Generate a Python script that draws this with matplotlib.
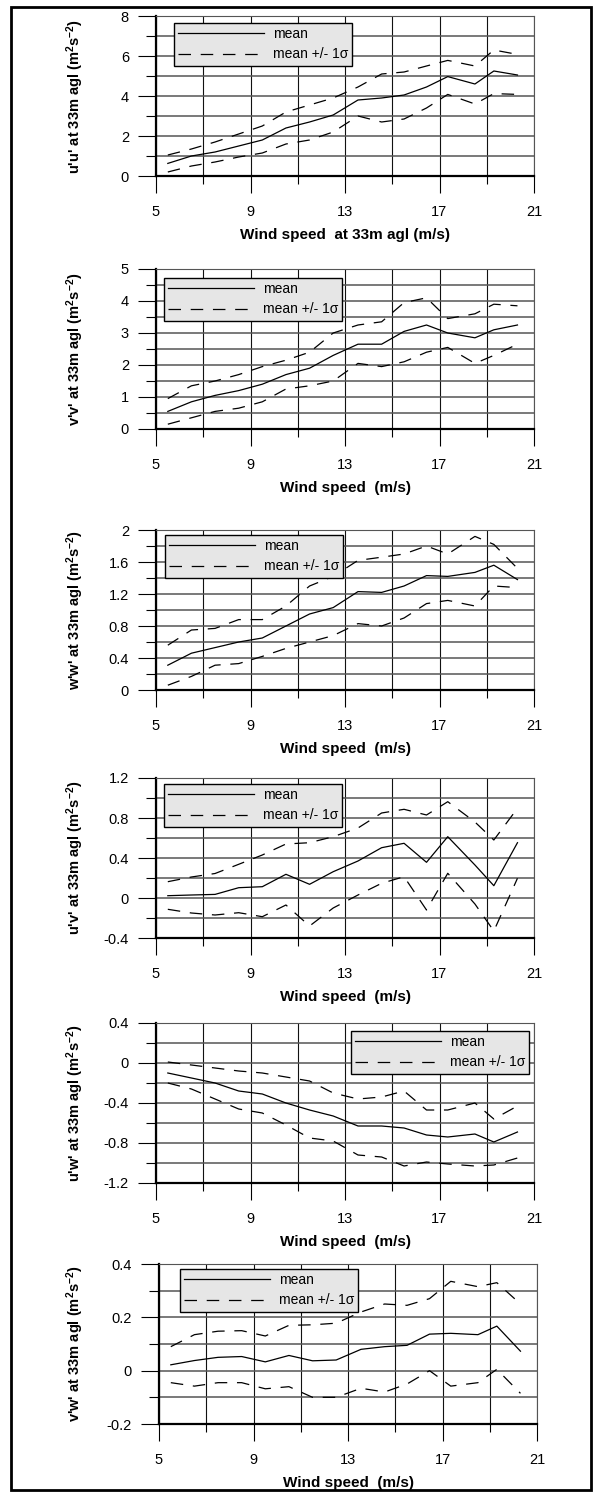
import matplotlib
matplotlib.use('Agg')
import matplotlib.pyplot as plt
from matplotlib.ticker import MultipleLocator, FixedLocator, FuncFormatter
from matplotlib.patches import Rectangle

plt.rcParams['font.family'] = ['Liberation Sans', 'DejaVu Sans']
plt.rcParams['mathtext.fontset'] = 'custom'
plt.rcParams['mathtext.bf'] = 'Liberation Sans:bold'
plt.rcParams['mathtext.rm'] = 'Liberation Sans:bold'
plt.rcParams['mathtext.default'] = 'bf'
plt.rcParams['lines.scale_dashes'] = False
plt.rcParams['axes.unicode_minus'] = False

# %% data
wind = [5.5, 6.5, 7.5, 8.5, 9.5, 10.5, 11.5, 12.5, 13.55, 14.55, 15.5, 16.45, 17.35, 18.5, 19.3, 20.3]

uu_mean = [0.63, 1.0, 1.2, 1.5, 1.8, 2.4, 2.7, 3.05, 3.8, 3.9, 4.05, 4.45, 4.97, 4.6, 5.25, 5.05]
uu_upper = [1.05, 1.35, 1.7, 2.1, 2.5, 3.2, 3.55, 3.9, 4.45, 5.1, 5.2, 5.5, 5.78, 5.5, 6.3, 6.08]
uu_lower = [0.2, 0.5, 0.7, 0.95, 1.15, 1.6, 1.8, 2.2, 3.0, 2.7, 2.85, 3.4, 4.08, 3.6, 4.12, 4.08]

vv_mean = [0.55, 0.85, 1.05, 1.2, 1.4, 1.7, 1.9, 2.3, 2.65, 2.65, 3.05, 3.25, 3.0, 2.85, 3.1, 3.25]
vv_upper = [0.95, 1.35, 1.5, 1.7, 1.95, 2.15, 2.4, 3.0, 3.25, 3.35, 3.95, 4.1, 3.45, 3.6, 3.9, 3.85]
vv_lower = [0.15, 0.35, 0.55, 0.65, 0.85, 1.25, 1.35, 1.5, 2.05, 1.95, 2.1, 2.4, 2.55, 2.05, 2.3, 2.65]

ww_mean = [0.31, 0.46, 0.53, 0.6, 0.65, 0.8, 0.95, 1.03, 1.23, 1.22, 1.3, 1.43, 1.42, 1.47, 1.56, 1.38]
ww_upper = [0.56, 0.75, 0.77, 0.88, 0.88, 1.05, 1.3, 1.42, 1.62, 1.66, 1.70, 1.80, 1.70, 1.92, 1.82, 1.52]
ww_lower = [0.06, 0.17, 0.31, 0.33, 0.42, 0.52, 0.6, 0.68, 0.83, 0.8, 0.9, 1.08, 1.12, 1.05, 1.3, 1.28]

uv_mean = [0.023, 0.03, 0.036, 0.103, 0.113, 0.237, 0.137, 0.263, 0.37, 0.503, 0.547, 0.357, 0.613, 0.33, 0.123, 0.553]
uv_upper = [0.163, 0.21, 0.245, 0.337, 0.43, 0.54, 0.553, 0.613, 0.70, 0.85, 0.887, 0.83, 0.963, 0.76, 0.58, 0.897]
uv_lower = [-0.113, -0.15, -0.17, -0.147, -0.187, -0.07, -0.28, -0.1, 0.03, 0.147, 0.213, -0.12, 0.247, -0.06, -0.33, 0.197]

uw_mean = [-0.1, -0.15, -0.2, -0.28, -0.31, -0.4, -0.47, -0.53, -0.63, -0.63, -0.65, -0.72, -0.74, -0.71, -0.79, -0.69]
uw_upper = [0.01, -0.02, -0.05, -0.08, -0.1, -0.14, -0.18, -0.3, -0.36, -0.34, -0.28, -0.47, -0.47, -0.4, -0.56, -0.43]
uw_lower = [-0.2, -0.26, -0.36, -0.46, -0.5, -0.62, -0.75, -0.78, -0.92, -0.94, -1.03, -0.99, -1.01, -1.03, -1.02, -0.95]

vw_mean = [0.022, 0.038, 0.05, 0.053, 0.033, 0.057, 0.037, 0.04, 0.08, 0.09, 0.095, 0.137, 0.14, 0.135, 0.167, 0.073]
vw_upper = [0.09, 0.135, 0.148, 0.15, 0.13, 0.17, 0.172, 0.178, 0.22, 0.25, 0.245, 0.27, 0.335, 0.315, 0.33, 0.25]
vw_lower = [-0.045, -0.058, -0.045, -0.045, -0.068, -0.06, -0.1, -0.1, -0.066, -0.08, -0.05, 0.0, -0.058, -0.045, 0.005, -0.085]

names = ["u'u'", "v'v'", "w'w'", "u'v'", "u'w'", "v'w'"]
xlabels = ['Wind speed  at 33m agl (m/s)'] + ['Wind speed  (m/s)'] * 5
xticks_major = [5, 9, 13, 17, 21]
xticks_minor = [7, 11, 15, 19]
ylims = [(0, 8), (0, 5), (0, 2), (-0.4, 1.2), (-1.2, 0.4), (-0.2, 0.4)]
ysteps = [(2, 1), (1, 0.5), (0.4, 0.2), (0.4, 0.2), (0.4, 0.2), (0.2, 0.1)]
series = [(uu_mean, uu_upper, uu_lower), (vv_mean, vv_upper, vv_lower),
          (ww_mean, ww_upper, ww_lower), (uv_mean, uv_upper, uv_lower),
          (uw_mean, uw_upper, uw_lower), (vw_mean, vw_upper, vw_lower)]

# %% layout in pixels
W, H = 593, 1492
ax_pos = [(156, 16), (156, 269), (156, 530), (156, 778), (156, 1023), (159, 1264)]
leg_pos = [(174, 23), (164, 278), (165, 535), (164, 784), (351, 1031), (180, 1269)]
AW, AH = 378, 160

fig = plt.figure(figsize=(W / 100, H / 100), dpi=100)
fig.add_artist(Rectangle((11 / W, 2 / H), 580 / W, 1483 / H, transform=fig.transFigure,
                         fill=False, lw=2, ec='black'))


def fmt(v, pos):
    v = round(v, 2)
    if v == 0:
        return '0'
    return '{:g}'.format(v)


for i in range(6):
    x0, y0 = ax_pos[i]
    ax = fig.add_axes([x0 / W, 1 - (y0 + AH) / H, AW / W, AH / H])
    mean, upper, lower = series[i]
    ax.plot(wind, mean, color='black', lw=0.9, label='mean', zorder=3)
    ax.plot(wind, upper, color='black', lw=0.9, linestyle=(0, (9, 7)), label='mean +/- 1σ', zorder=3)
    ax.plot(wind, lower, color='black', lw=0.9, linestyle=(0, (9, 7)), zorder=3)

    ax.set_xlim(5, 21)
    ax.set_ylim(*ylims[i])
    ax.xaxis.set_major_locator(FixedLocator(xticks_major))
    ax.xaxis.set_minor_locator(FixedLocator(xticks_minor))
    ax.yaxis.set_major_locator(MultipleLocator(ysteps[i][0]))
    ax.yaxis.set_minor_locator(MultipleLocator(ysteps[i][1]))
    ax.yaxis.set_major_formatter(FuncFormatter(fmt))

    ax.grid(axis='x', which='both', color='#111111', lw=0.8, zorder=1)
    ax.grid(axis='y', which='both', color='#555555', lw=1.1, zorder=1)
    ax.set_axisbelow(True)

    ax.tick_params(axis='x', which='major', length=12, width=0.8, pad=9, labelsize=10.5)
    ax.tick_params(axis='x', which='minor', length=6, width=0.8)
    ax.tick_params(axis='y', which='major', length=13, width=0.8, pad=6.5, labelsize=10.5)
    ax.tick_params(axis='y', which='minor', length=7, width=0.8)

    ax.spines['left'].set_linewidth(1.6)
    ax.spines['bottom'].set_linewidth(1.6)
    ax.spines['top'].set_color('#555555')
    ax.spines['right'].set_color('#555555')

    ax.set_ylabel(names[i] + " at 33m agl (m$^{2}$s$^{-2}$)", fontsize=10.5,
                  fontweight='bold', va='center')
    ax.yaxis.set_label_coords((75 - x0) / AW, 0.5)
    ax.set_xlabel(xlabels[i], fontsize=11, fontweight='bold', va='center')
    ax.xaxis.set_label_coords(0.5, -59 / AH)

    lx, ly = leg_pos[i]
    leg = ax.legend(loc='upper left', bbox_to_anchor=(lx / W, 1 - ly / H),
                    bbox_transform=fig.transFigure, borderaxespad=0,
                    fontsize=10, handlelength=6.2, handletextpad=0.6,
                    borderpad=0.3, labelspacing=0.45, fancybox=False,
                    framealpha=1, facecolor='#e6e6e6', edgecolor='black')
    leg.get_frame().set_linewidth(1.0)
    leg.set_zorder(5)

plt.savefig('out.png', dpi=100)
